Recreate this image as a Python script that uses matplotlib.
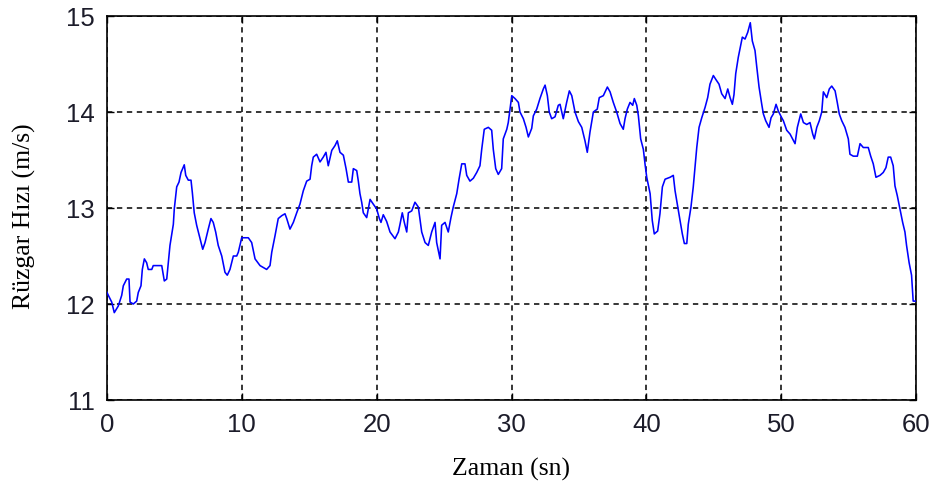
import matplotlib
matplotlib.use("Agg")
import matplotlib.pyplot as plt

# Wind speed time series (seconds, m/s)
time_s = [
    0.00, 0.10, 0.35, 0.54, 0.84, 1.09, 1.21, 1.46, 1.63, 1.71, 1.95, 2.20, 2.32, 2.52,
    2.62, 2.77, 2.94, 3.06, 3.32, 3.43, 4.06, 4.25, 4.43, 4.55, 4.67, 4.92, 4.99, 5.17,
    5.34, 5.49, 5.73, 5.84, 6.03, 6.23, 6.33, 6.47, 6.65, 6.90, 7.10, 7.27, 7.51, 7.71,
    7.88, 8.06, 8.25, 8.51, 8.75, 8.92, 9.12, 9.37, 9.62, 9.74, 9.99, 10.11, 10.48, 10.73,
    10.98, 11.35, 11.84, 12.09, 12.22, 12.46, 12.70, 12.96, 13.20, 13.33, 13.57, 13.82,
    14.07, 14.31, 14.56, 14.81, 15.06, 15.18, 15.30, 15.55, 15.80, 16.04, 16.24, 16.41,
    16.67, 16.91, 17.08, 17.28, 17.53, 17.73, 17.90, 18.15, 18.27, 18.52, 18.64, 18.76,
    18.89, 19.01, 19.26, 19.51, 19.75, 20.00, 20.20, 20.32, 20.49, 20.74, 20.99, 21.36,
    21.61, 21.73, 21.90, 22.05, 22.23, 22.35, 22.60, 22.84, 23.09, 23.34, 23.59, 23.83,
    24.08, 24.33, 24.45, 24.70, 24.82, 25.07, 25.31, 25.51, 25.68, 25.94, 26.11, 26.31,
    26.55, 26.68, 26.92, 27.17, 27.42, 27.66, 27.79, 27.98, 28.28, 28.53, 28.65, 28.83,
    29.02, 29.27, 29.39, 29.65, 29.76, 29.89, 30.02, 30.26, 30.51, 30.63, 30.88, 31.08,
    31.25, 31.50, 31.62, 31.87, 32.11, 32.36, 32.49, 32.66, 32.80, 32.98, 33.23, 33.47,
    33.60, 33.84, 34.09, 34.29, 34.47, 34.71, 34.96, 35.21, 35.45, 35.62, 35.82, 36.07,
    36.36, 36.51, 36.81, 37.11, 37.31, 37.55, 37.80, 38.05, 38.29, 38.42, 38.59, 38.79,
    38.99, 39.11, 39.29, 39.41, 39.58, 39.78, 39.91, 40.03, 40.28, 40.44, 40.59, 40.84,
    41.01, 41.19, 41.39, 41.76, 42.00, 42.13, 42.33, 42.50, 42.67, 42.82, 43.00, 43.11,
    43.31, 43.48, 43.61, 43.74, 43.91, 44.11, 44.36, 44.55, 44.72, 44.97, 45.15, 45.39,
    45.59, 45.84, 46.04, 46.21, 46.38, 46.50, 46.63, 46.82, 47.02, 47.12, 47.32, 47.52,
    47.71, 47.86, 48.06, 48.19, 48.36, 48.56, 48.68, 48.85, 49.10, 49.25, 49.42, 49.62,
    49.79, 50.04, 50.16, 50.41, 50.66, 51.03, 51.20, 51.45, 51.65, 51.90, 52.14, 52.34,
    52.46, 52.64, 52.83, 53.01, 53.13, 53.38, 53.57, 53.75, 54.00, 54.16, 54.31, 54.49,
    54.73, 54.98, 55.10, 55.35, 55.65, 55.85, 56.09, 56.46, 56.64, 56.83, 57.03, 57.33,
    57.57, 57.77, 57.94, 58.12, 58.31, 58.44, 58.61, 58.81, 59.01, 59.18, 59.30, 59.49,
    59.67, 59.79, 60.00,
]
wind_speed = [
    12.12, 12.09, 12.02, 11.91, 11.98, 12.09, 12.19, 12.26, 12.26, 12.02, 12.00, 12.03, 12.12, 12.19,
    12.36, 12.47, 12.43, 12.36, 12.36, 12.40, 12.40, 12.24, 12.26, 12.43, 12.61, 12.83, 12.99, 13.22,
    13.27, 13.37, 13.45, 13.34, 13.29, 13.29, 13.16, 12.95, 12.82, 12.68, 12.57, 12.64, 12.78, 12.89,
    12.85, 12.75, 12.61, 12.50, 12.33, 12.30, 12.36, 12.50, 12.50, 12.54, 12.69, 12.69, 12.69, 12.64,
    12.47, 12.40, 12.36, 12.40, 12.54, 12.71, 12.89, 12.92, 12.94, 12.89, 12.78, 12.85,
    12.95, 13.04, 13.18, 13.28, 13.30, 13.44, 13.53, 13.56, 13.48, 13.53, 13.58, 13.44,
    13.60, 13.65, 13.70, 13.58, 13.55, 13.41, 13.27, 13.27, 13.41, 13.39, 13.28, 13.15,
    13.06, 12.95, 12.90, 13.09, 13.04, 12.99, 12.89, 12.85, 12.93, 12.86, 12.75, 12.68,
    12.75, 12.83, 12.95, 12.85, 12.75, 12.95, 12.97, 13.06, 13.01, 12.75, 12.64, 12.61,
    12.75, 12.85, 12.64, 12.47, 12.82, 12.85, 12.75, 12.90, 13.01, 13.15, 13.30, 13.46,
    13.46, 13.34, 13.28, 13.31, 13.37, 13.44, 13.61, 13.82, 13.84, 13.81, 13.61, 13.41,
    13.35, 13.41, 13.72, 13.82, 13.89, 14.03, 14.17, 14.14, 14.10, 14.00, 13.93, 13.84,
    13.74, 13.83, 13.96, 14.03, 14.14, 14.24, 14.28, 14.17, 14.00, 13.93, 13.95, 14.07,
    14.08, 13.93, 14.10, 14.22, 14.17, 14.00, 13.90, 13.84, 13.70, 13.58, 13.79, 14.00,
    14.03, 14.15, 14.17, 14.26, 14.21, 14.10, 14.00, 13.88, 13.82, 13.93, 14.03, 14.10,
    14.07, 14.14, 14.07, 13.96, 13.72, 13.61, 13.45, 13.32, 13.15, 12.87, 12.73, 12.76,
    12.94, 13.22, 13.30, 13.32, 13.34, 13.18, 13.01, 12.87, 12.73, 12.63, 12.63, 12.83,
    13.01, 13.22, 13.42, 13.63, 13.84, 13.94, 14.05, 14.15, 14.29, 14.38, 14.34, 14.29,
    14.19, 14.14, 14.24, 14.15, 14.08, 14.18, 14.40, 14.57, 14.71, 14.78, 14.76, 14.83,
    14.93, 14.74, 14.64, 14.47, 14.26, 14.08, 13.98, 13.91, 13.84, 13.94, 13.98, 14.08,
    14.01, 13.94, 13.91, 13.81, 13.77, 13.67, 13.84, 13.98, 13.89, 13.87, 13.89, 13.77,
    13.72, 13.84, 13.91, 14.00, 14.21, 14.15, 14.24, 14.27, 14.22, 14.10, 13.98, 13.91,
    13.84, 13.72, 13.56, 13.54, 13.54, 13.67, 13.63, 13.63, 13.54, 13.46, 13.32, 13.34,
    13.37, 13.42, 13.53, 13.53, 13.44, 13.23, 13.13, 12.99, 12.85, 12.75, 12.61, 12.43,
    12.30, 12.03, 12.03,
]

x_ticks = [0, 10, 20, 30, 40, 50, 60]
y_ticks = [11, 12, 13, 14, 15]

tick_font = dict(family=["Liberation Sans Narrow", "Liberation Sans"], size=18.5, color="#1c1c2a")
label_font = dict(family=["Liberation Serif"], size=18.5, color="black")

fig = plt.figure(figsize=(9.3, 4.85), dpi=100)
ax = fig.add_axes([107 / 930, 1 - 401 / 485, 809 / 930, 384 / 485])

ax.plot(time_s, wind_speed, color="#0000ff", linewidth=1.15, zorder=3)

ax.set_xlim(0, 60)
ax.set_ylim(11, 15)
ax.set_xticks(x_ticks)
ax.set_yticks(y_ticks)
ax.set_xticklabels([str(v) for v in x_ticks], fontdict=tick_font)
ax.set_yticklabels([str(v) for v in y_ticks], fontdict=tick_font)

ax.grid(True, color="black", linestyle=(0, (3.5, 3)), linewidth=1.1)
ax.tick_params(direction="in", length=5, width=1, top=True, right=True,
               color="black")
ax.tick_params(axis="x", pad=9)
ax.tick_params(axis="y", pad=9)
for s in ax.spines.values():
    s.set_color("black")
    s.set_linewidth(1.2)

ax.set_xlabel("Zaman (sn)", fontdict=label_font, labelpad=15)
ax.set_ylabel("Rüzgar Hızı (m/s)", fontdict=label_font)
ax.yaxis.set_label_coords(-0.088, 0.48)

fig.savefig("out.png", dpi=100, facecolor="white")
